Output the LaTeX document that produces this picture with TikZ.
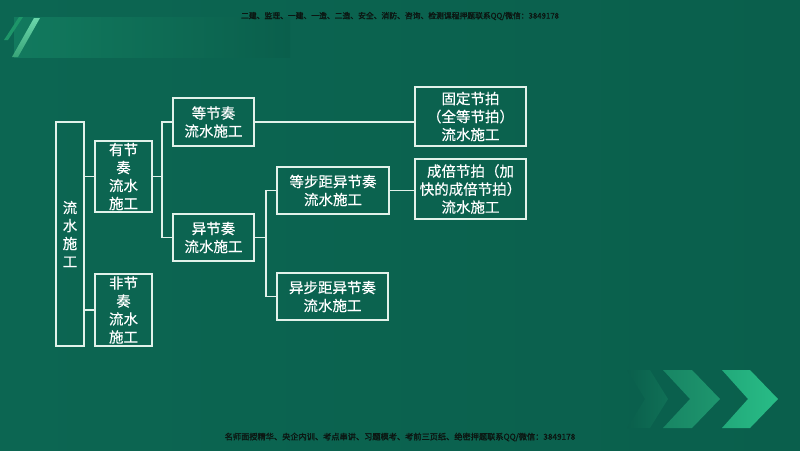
\documentclass[tikz,border=0pt]{standalone}
\usepackage{fontspec}
\setmainfont{Noto Sans CJK SC}
\newfontfamily\smallcjk[FakeBold=1.5]{Noto Sans CJK SC}
\newfontfamily\boxcjk[FakeBold=0.4]{Noto Sans CJK SC}
\usetikzlibrary{calc}
\definecolor{bg}{RGB}{10,95,76}
\definecolor{bgl}{RGB}{12,102,82}
\definecolor{band}{RGB}{18,122,94}
\definecolor{linec}{RGB}{225,242,234}
\definecolor{mint}{RGB}{70,205,150}
\definecolor{mintd}{RGB}{30,150,105}
\definecolor{chevA}{RGB}{40,188,134}
\definecolor{chevB}{RGB}{30,150,110}
\definecolor{chevC}{RGB}{16,112,86}
\definecolor{darktext}{RGB}{12,22,18}
\tikzset{
  box/.style={draw=linec, line width=1.4pt, text=white, align=center, inner sep=0pt,
    font=\boxcjk\fontsize{14.5}{18}\selectfont},
  conn/.style={draw=linec, line width=1.4pt},
  small/.style={text=darktext, inner sep=0pt}
}
\begin{document}
\begin{tikzpicture}[x=1pt,y=-1pt]
\useasboundingbox (0,0) rectangle (800,450);
% background
\shade[left color=bgl, right color=bg] (0,0) rectangle (800,450);
% top band
\shade[left color=band, right color=bg] (14,17) rectangle (290,57);
\fill[mintd] (19,17) -- (23,17) -- (8,40) -- (4,40) -- cycle;
\shade[bottom color=mint!80!black, top color=mint!80!white] (34,18) -- (40,18) -- (18,57) -- (12,57) -- cycle;
% chevrons
\shade[left color=bg, right color=chevC] (627,370) -- (650,370) -- (668,399) -- (650,428) -- (627,428) -- (645,399) -- cycle;
\shade[left color=chevB!70!bg, right color=chevB] (663,370) -- (692,370) -- (720,399) -- (692,428) -- (663,428) -- (690,399) -- cycle;
\shade[left color=chevA!80!bg, right color=chevA] (722,370) -- (750,370) -- (778,399) -- (750,428) -- (722,428) -- (748,399) -- cycle;
% header / footer texts
\node[small, font=\smallcjk\fontsize{7.8}{9}\selectfont] (top) at (400,16) {二建、监理、一建、一造、二造、安全、消防、咨询、检测课程押题联系QQ/微信：3849178};
\node[small, font=\smallcjk\fontsize{8.2}{9}\selectfont] (bot) at (400,437) {名师面授精华、央企内训、考点串讲、习题模考、考前三页纸、绝密押题联系QQ/微信：3849178};
% boxes
\node[box, minimum width=28pt, minimum height=224pt] (main) at (70,234) {流\\水\\施\\工};
\node[box, minimum width=57pt, minimum height=71pt] (you) at (123.5,176.5) {有节\\奏\\流水\\施工};
\node[box, minimum width=57pt, minimum height=72pt] (fei) at (123.5,310) {非节\\奏\\流水\\施工};
\node[box, minimum width=81pt, minimum height=48pt] (deng) at (213.5,122) {等节奏\\流水施工};
\node[box, minimum width=81pt, minimum height=47pt] (yi) at (213.5,237.5) {异节奏\\流水施工};
\node[box, minimum width=112pt, minimum height=47pt] (dbj) at (333,190.5) {等步距异节奏\\流水施工};
\node[box, minimum width=111pt, minimum height=47pt] (ybj) at (332.5,296.5) {异步距异节奏\\流水施工};
\node[box, minimum width=111pt, minimum height=59pt] (gd) at (470.5,116.5) {固定节拍\\（全等节拍）\\流水施工};
\node[box, minimum width=111pt, minimum height=60pt] (cb) at (470.5,189) {成倍节拍（加\\快的成倍节拍）\\流水施工};
% connectors
\coordinate (j1) at (162,176.5);
\coordinate (j2) at (266,237.5);
\draw[conn] (you.west -| main.east) -- (you.west);
\draw[conn] (fei.west -| main.east) -- (fei.west);
\draw[conn] (you.east) -- (j1);
\draw[conn] (deng.west) -| (j1) |- (yi.west);
\draw[conn] (yi.east) -- (j2);
\draw[conn] (dbj.west) -| (j2) |- (ybj.west);
\draw[conn] (deng.east) -- (deng.east -| gd.west);
\draw[conn] (dbj.east) -- (dbj.east -| cb.west);
\end{tikzpicture}
\end{document}
